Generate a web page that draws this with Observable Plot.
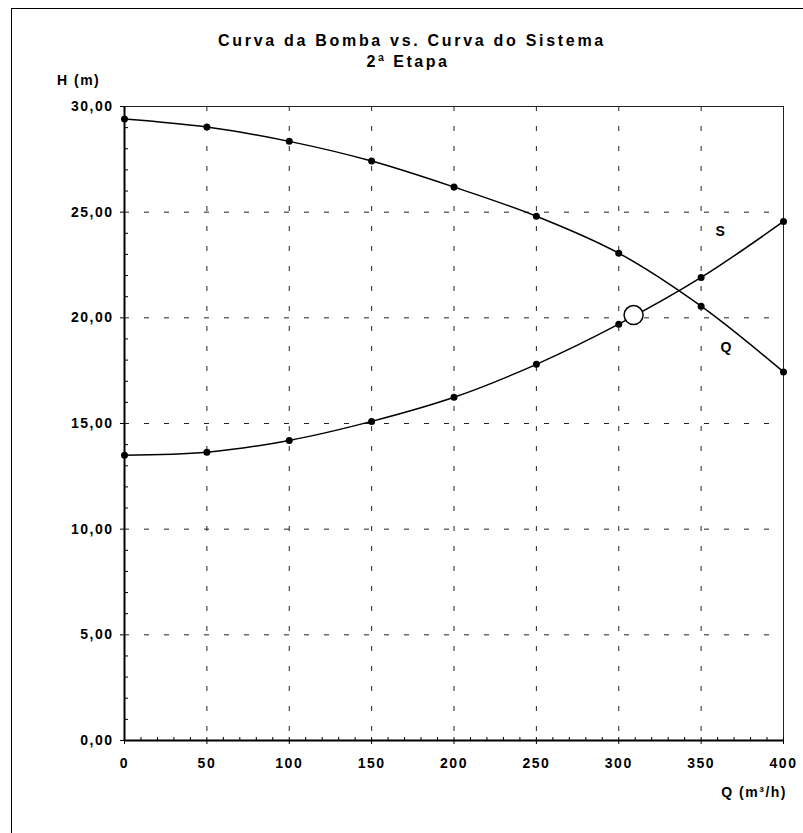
<!DOCTYPE html>
<html>
<head>
<meta charset="utf-8">
<script src="https://cdn.jsdelivr.net/npm/d3@7"></script>
<script src="https://cdn.jsdelivr.net/npm/@observablehq/plot@0.6"></script>
<style>
  html, body { margin: 0; padding: 0; background: #fff; overflow: hidden; width: 803px; height: 833px; }
  body { position: relative; font-family: "Liberation Sans", Arial, sans-serif; font-weight: bold; color: #000; }
  #frame { position: absolute; left: 11px; top: 8px; width: 900px; height: 900px; border: 1px solid #000; box-sizing: border-box; }
  #chart { position: absolute; left: 0; top: 0; }
  .lbl { position: absolute; white-space: nowrap; }
  #title { left: 412px; top: 33px; transform: translateX(-50%); font-size: 16px; line-height: 16px; letter-spacing: 2.7px; }
  #subtitle { left: 408px; top: 54px; transform: translateX(-50%); font-size: 16px; line-height: 16px; letter-spacing: 2.5px; }
  #ylabel { left: 57px; top: 73px; font-size: 14px; line-height: 14px; letter-spacing: 1.5px; }
  #xlabel { right: 16px; top: 785px; font-size: 14px; line-height: 14px; letter-spacing: 1.5px; }
</style>
</head>
<body>
<div id="frame"></div>
<div id="chart"></div>
<div class="lbl" id="title">Curva da Bomba vs. Curva do Sistema</div>
<div class="lbl" id="subtitle">2ª Etapa</div>
<div class="lbl" id="ylabel">H (m)</div>
<div class="lbl" id="xlabel">Q (m³/h)</div>
<script>
// ---- data ----
const vazao = [0, 50, 100, 150, 200, 250, 300, 350, 400];
const alturaBomba = [29.41, 29.03, 28.35, 27.42, 26.19, 24.81, 23.06, 20.55, 17.44];
const alturaSistema = [13.50, 13.64, 14.20, 15.10, 16.24, 17.80, 19.70, 21.91, 24.56];
const pontoOperacao = [{q: 309, h: 20.13}];
const rotulos = [{q: 362, h: 24.1, t: "S"}, {q: 365.5, h: 18.6, t: "Q"}];
const yTicks = [0, 5, 10, 15, 20, 25, 30];
const xTicks = [0, 50, 100, 150, 200, 250, 300, 350, 400];
const yMinor = d3.range(0, 31, 1).filter(v => v % 5 !== 0);
const xMinor = d3.range(0, 401, 10).filter(v => v % 50 !== 0);
const yGrid = [5, 10, 15, 20, 25];
const xGrid = [50, 100, 150, 200, 250, 300, 350];

const bomba = vazao.map((q, i) => ({q, h: alturaBomba[i]}));
const sistema = vazao.map((q, i) => ({q, h: alturaSistema[i]}));

const W = 803, H = 833;
const mL = 124, mR = 20, mT = 106, mB = 93;
const fw = W - mL - mR, fh = H - mT - mB;
const fmt = d => d.toFixed(2).replace(".", ",");

const chart = Plot.plot({
  width: W,
  height: H,
  marginLeft: mL,
  marginRight: mR,
  marginTop: mT,
  marginBottom: mB,
  style: {fontFamily: '"Liberation Sans", Arial, sans-serif', fontWeight: "bold", fontSize: "14px", letterSpacing: "1.5px", color: "#000", background: "transparent"},
  x: {domain: [0, 400]},
  y: {domain: [0, 30]},
  marks: [
    // dashed grid
    Plot.ruleX(xGrid, {stroke: "#222", strokeWidth: 1, strokeDasharray: "5,15"}),
    Plot.ruleY(yGrid, {stroke: "#222", strokeWidth: 1, strokeDasharray: "5,15"}),
    // top and right border
    Plot.ruleY([30], {stroke: "#222", strokeWidth: 1}),
    Plot.ruleX([400], {stroke: "#222", strokeWidth: 1}),
    // minor ticks inside
    Plot.tickY(yMinor, {y: d => d, insetRight: fw - 4, stroke: "#000"}),
    Plot.tickX(xMinor, {x: d => d, insetTop: fh - 3, stroke: "#000"}),
    Plot.tickX(xTicks, {x: d => d, insetTop: fh - 3, stroke: "#000"}),
    // axes
    Plot.axisY({ticks: yTicks, tickFormat: fmt, tickSize: 4, tickPadding: 7, label: null, fontSize: 14}),
    Plot.axisX({ticks: xTicks, tickFormat: d => String(d), tickSize: 4, tickPadding: 14, label: null, fontSize: 14}),
    Plot.ruleX([0], {stroke: "#000", strokeWidth: 2}),
    Plot.ruleY([0], {stroke: "#000", strokeWidth: 2}),
    // curves
    Plot.line(bomba, {x: "q", y: "h", curve: "catmull-rom", stroke: "#000", strokeWidth: 1.5}),
    Plot.line(sistema, {x: "q", y: "h", curve: "catmull-rom", stroke: "#000", strokeWidth: 1.5}),
    Plot.dot(bomba, {x: "q", y: "h", r: 3.5, fill: "#000", stroke: "none"}),
    Plot.dot(sistema, {x: "q", y: "h", r: 3.5, fill: "#000", stroke: "none"}),
    Plot.dot(pontoOperacao, {x: "q", y: "h", r: 9.5, fill: "#fff", stroke: "#000", strokeWidth: 1.5}),
    Plot.text(rotulos, {x: "q", y: "h", text: "t", fontSize: 14, fontWeight: "bold", fill: "#000"})
  ]
});
document.getElementById("chart").appendChild(chart);
</script>
</body>
</html>
